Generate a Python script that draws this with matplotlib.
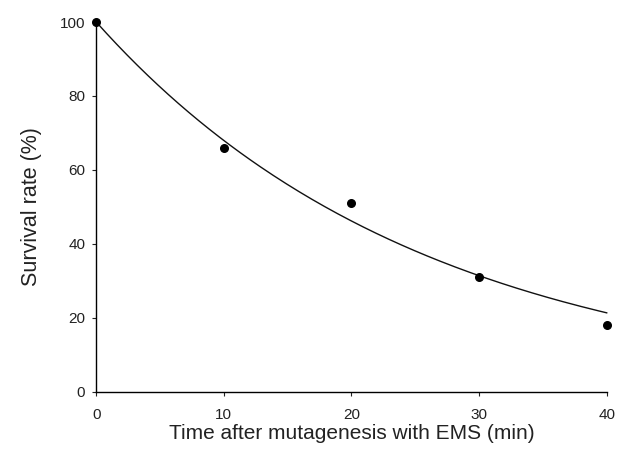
import numpy as np
import matplotlib
matplotlib.use("Agg")
import matplotlib.pyplot as plt

# ── Data ──────────────────────────────────────────────────────────────────────
TIME_MIN = [0, 10, 20, 30, 40]
SURVIVAL = [100, 66, 51, 31, 18]
X_TICKS = [0, 10, 20, 30, 40]
Y_TICKS = [0, 20, 40, 60, 80, 100]

# exponential decay fit through 100 % at t=0 (least squares on the points)
t = np.array(TIME_MIN, float)
s = np.array(SURVIVAL, float)
ks = np.linspace(0.01, 0.08, 2001)
sse = [np.sum((s - 100 * np.exp(-k * t)) ** 2) for k in ks]
k_fit = ks[int(np.argmin(sse))]
t_fit = np.linspace(0, 40, 200)
s_fit = 100 * np.exp(-k_fit * t_fit)

plt.rcParams["font.family"] = ["Liberation Sans", "DejaVu Sans"]

fig = plt.figure(figsize=(6.21, 4.59), dpi=100, facecolor="white")
ax = fig.add_axes([0.155, 0.147, 0.822, 0.805])

ax.plot(t_fit, s_fit, color="#111111", lw=1.0, clip_on=False)
ax.scatter(TIME_MIN, SURVIVAL, s=30, color="black", zorder=3, clip_on=False)

ax.set_xlim(0, 40)
ax.set_ylim(0, 100)
ax.set_xticks(X_TICKS)
ax.set_yticks(Y_TICKS)
ax.spines[["top", "right"]].set_visible(False)
ax.spines[["left", "bottom"]].set_linewidth(1.0)
ax.tick_params(labelsize=11, length=3, width=0.8, pad=5, colors="#222222")
ax.tick_params(axis="x", pad=9)

ax.set_xlabel("Time after mutagenesis with EMS (min)", fontsize=15,
              labelpad=1, color="#222222")
ax.set_ylabel("Survival rate (%)", fontsize=15.5, labelpad=13, color="#222222")

fig.savefig("out.png", dpi=100, facecolor="white")
